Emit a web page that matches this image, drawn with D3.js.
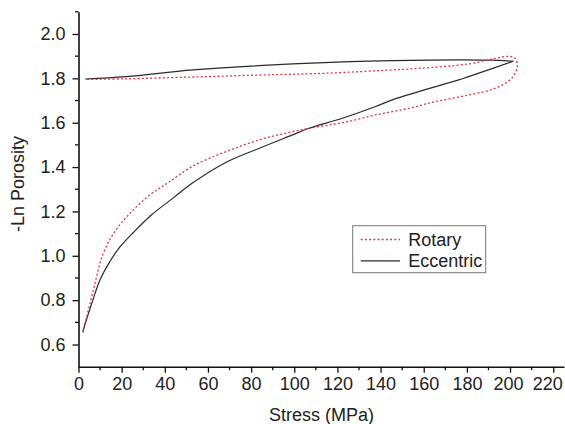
<!DOCTYPE html>
<html>
<head>
<meta charset="utf-8">
<script src="https://cdn.jsdelivr.net/npm/d3@7"></script>
<style>
  html, body { margin: 0; padding: 0; background: #fff; }
  text { font-family: "Liberation Sans", Arial, Helvetica, sans-serif; fill: #222; }
</style>
</head>
<body>
<svg id="chart" width="565" height="424"></svg>
<script>
// ---- data ----
const xTicks = [0, 20, 40, 60, 80, 100, 120, 140, 160, 180, 200, 220];
const yTicks = [0.6, 0.8, 1.0, 1.2, 1.4, 1.6, 1.8, 2.0];
const seriesNames = ["Rotary", "Eccentric"];

const rotaryStress = [2.0, 6.9, 11.5, 16.9, 23.9, 33.1, 37.7, 42.3, 53.1, 68.5, 83.8, 96.2, 106.9, 122.3, 137.7, 153.1, 165.4, 180.8, 193.1, 200.7, 203.4, 202.3, 199.2, 193.1, 180.8, 157.7, 145.4, 114.6, 83.8, 53.1, 22.3, 3.1];
const rotaryLn     = [0.653, 0.847, 1.012, 1.110, 1.192, 1.275, 1.305, 1.335, 1.405, 1.470, 1.523, 1.553, 1.575, 1.600, 1.635, 1.665, 1.695, 1.725, 1.755, 1.800, 1.853, 1.891, 1.899, 1.890, 1.865, 1.845, 1.838, 1.823, 1.815, 1.806, 1.798, 1.795];

// loading branch (to the peak) then unloading branch
const eccentricStress = [2.0, 6.2, 10.0, 14.6, 19.2, 25.4, 33.9, 43.8, 53.1, 68.5, 83.8, 99.2, 106.9, 122.3, 137.7, 145.4, 157.7, 176.2, 180.8, 201.5, 191.5, 145.4, 99.2, 53.1, 22.3, 3.1];
const eccentricLn     = [0.659, 0.787, 0.892, 0.975, 1.040, 1.105, 1.185, 1.260, 1.330, 1.422, 1.485, 1.545, 1.575, 1.620, 1.673, 1.703, 1.740, 1.793, 1.808, 1.877, 1.882, 1.880, 1.865, 1.838, 1.808, 1.797];
const eccentricPeakIndex = 19;

// ---- layout ----
const svg = d3.select("#chart");
svg.append("rect").attr("width", 565).attr("height", 424).attr("fill", "#fff");

const x = d3.scaleLinear().domain([0, 225]).range([78.5, 564]);
const y = d3.scaleLinear().domain([0.5, 2.1]).range([366.7, 11.8]);

// minor ticks
const xMinor = d3.range(10, 225, 20);
const yMinor = d3.range(0.7, 2.11, 0.2).map(v => +v.toFixed(2));

const g = svg.append("g");

// x axis
const xAxis = d3.axisBottom(x).tickValues(xTicks).tickFormat(d3.format("d")).tickSize(6).tickPadding(4).tickSizeOuter(0);
const gx = g.append("g").attr("transform", `translate(0,${y.range()[0]})`).call(xAxis);
gx.append("g").selectAll("line").data(xMinor).join("line")
  .attr("x1", d => x(d)).attr("x2", d => x(d)).attr("y1", 0).attr("y2", 3.5).attr("stroke", "#111").attr("stroke-width", 1.3);

// y axis
const yAxis = d3.axisLeft(y).tickValues(yTicks).tickFormat(d3.format(".1f")).tickSize(6).tickPadding(7).tickSizeOuter(0);
const gy = g.append("g").attr("transform", `translate(${x.range()[0]},0)`).call(yAxis);
gy.append("g").selectAll("line").data(yMinor).join("line")
  .attr("y1", d => y(d)).attr("y2", d => y(d)).attr("x1", 0).attr("x2", -3.5).attr("stroke", "#111").attr("stroke-width", 1.3);

[gx, gy].forEach(a => {
  a.select(".domain").attr("stroke", "#111").attr("stroke-width", 1.6);
  a.selectAll(".tick line").attr("stroke", "#111").attr("stroke-width", 1.3);
  a.selectAll(".tick text").attr("font-size", 18).attr("fill", "#222")
    .attr("font-family", "'Liberation Sans', Arial, sans-serif");
});
gx.selectAll(".tick text").attr("dy", "0.75em");
// keep the last x label inside the frame (the reference nudges it left)
gx.selectAll(".tick text").filter(d => d === 220).attr("text-anchor", "end").attr("dx", 9);
gx.selectAll(".tick text").filter(d => d === 200).attr("dx", -2);

// axis titles
svg.append("text").attr("x", 321.5).attr("y", 421).attr("text-anchor", "middle")
  .attr("font-size", 18).text("Stress (MPa)");
svg.append("text").attr("transform", "translate(24,184) rotate(-90)").attr("text-anchor", "middle")
  .attr("font-size", 18).text("-Ln Porosity");

// lines
const rotary = rotaryStress.map((s, i) => [s, rotaryLn[i]]);
const eccentric = eccentricStress.map((s, i) => [s, eccentricLn[i]]);
const eccLoad = eccentric.slice(0, eccentricPeakIndex + 1);
const eccUnload = eccentric.slice(eccentricPeakIndex);

const lineSmooth = d3.line().x(d => x(d[0])).y(d => y(d[1])).curve(d3.curveCatmullRom.alpha(0.5));

svg.append("path").datum(eccLoad).attr("d", lineSmooth)
  .attr("fill", "none").attr("stroke", "#2a2a2a").attr("stroke-width", 1.2);
svg.append("path").datum(eccUnload).attr("d", lineSmooth)
  .attr("fill", "none").attr("stroke", "#2a2a2a").attr("stroke-width", 1.2);
svg.append("path").datum(rotary).attr("d", lineSmooth)
  .attr("fill", "none").attr("stroke", "#e5333f").attr("stroke-width", 1.3).attr("stroke-dasharray", "2,2.2");

// legend
const lg = svg.append("g");
lg.append("rect").attr("x", 352.7).attr("y", 225.7).attr("width", 133).attr("height", 47)
  .attr("fill", "#fff").attr("stroke", "#777").attr("stroke-width", 1);
const legendStyles = [
  { stroke: "#e5333f", dash: "2,2.2", width: 1.3 },
  { stroke: "#2a2a2a", dash: null, width: 1.2 }
];
seriesNames.forEach((name, i) => {
  const ly = 239.5 + i * 21.3;
  lg.append("line").attr("x1", 360.7).attr("x2", 400).attr("y1", ly).attr("y2", ly)
    .attr("stroke", legendStyles[i].stroke).attr("stroke-width", legendStyles[i].width)
    .attr("stroke-dasharray", legendStyles[i].dash);
  lg.append("text").attr("x", 408.3).attr("y", ly + 6.5).attr("font-size", 18).text(name);
});
</script>
</body>
</html>
